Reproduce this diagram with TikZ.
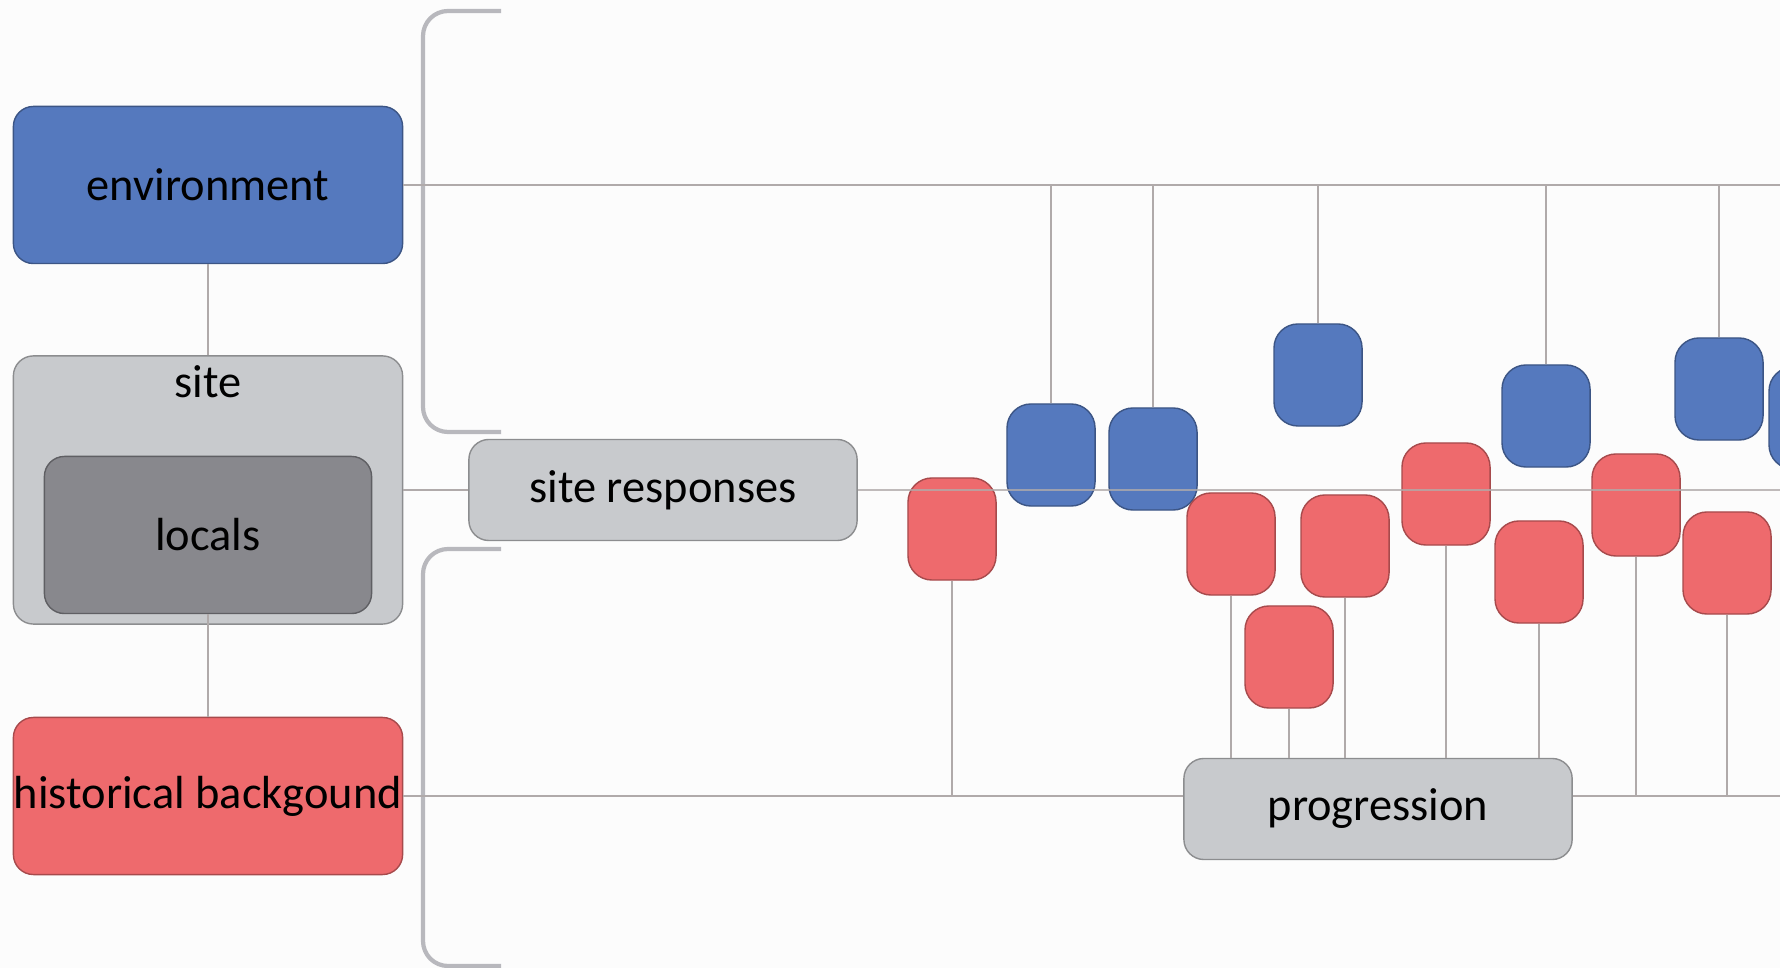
\documentclass[tikz,border=0pt]{standalone}
\usepackage{fontspec}
\setmainfont{Carlito}
\usetikzlibrary{positioning}
\definecolor{envblue}{HTML}{5579BE}
\definecolor{histred}{HTML}{EE6A6D}
\definecolor{sitegray}{HTML}{C8CACD}
\definecolor{localgray}{HTML}{88888D}
\definecolor{linegray}{HTML}{B0AAAA}
\definecolor{brackgray}{HTML}{B8B8BD}
\definecolor{bggray}{HTML}{FCFCFC}

\begin{document}
\begin{tikzpicture}[x=0.01cm, y=-0.01cm,
  box/.style={draw=#1!70!black, fill=#1, line width=0.4pt, rounded corners=0.2cm, inner sep=0pt, align=center, font=\fontsize{13.2}{15}\selectfont},
  big/.style={box=#1, minimum width=3.89cm, minimum height=1.57cm},
  pill/.style={box=#1, minimum width=3.88cm, minimum height=1.01cm},
  sq/.style={box=#1, minimum width=0.88cm, minimum height=1.02cm, rounded corners=0.24cm},
  conn/.style={draw=linegray, line width=0.6pt},
  brack/.style={draw=brackgray, line width=1.2pt, rounded corners=0.25cm}
]
\fill[bggray] (0,0) rectangle (1780,968);
\useasboundingbox (0,0) rectangle (1780,968);
\clip (0,0) rectangle (1780,968);

\draw[brack] (501,11) -- (423,11) -- (423,432) -- (501,432);
\draw[brack] (501,549) -- (423,549) -- (423,966) -- (501,966);

\node[big=envblue] (env) at (208,185) {environment};
\node[box=sitegray, minimum width=3.89cm, minimum height=2.68cm,
      label={[anchor=north, inner sep=0pt, yshift=-0.1cm, font=\fontsize{13.2}{15}\selectfont]north:site}] (site) at (208,490) {};
\node[box=localgray, minimum width=3.27cm, minimum height=1.57cm] (locals) at (208,535) {locals};
\node[big=histred] (hist) at (208,796) {historical backgound};
\node[pill=sitegray] (resp) at (663,490) {site responses};
\node[pill=sitegray] (prog) at (1378,809) {progression};

\coordinate (topend) at (1780,185);
\coordinate (midend) at (1780,490);
\coordinate (botend) at (1780,796);

\draw[conn] (env.south) -- (site.north);
\draw[conn] (locals.south) -- (hist.north);
\draw[conn] (env.east) -- (topend);
\draw[conn] (hist.east) -- (hist.east -| prog.west);
\draw[conn] (botend -| prog.east) -- (botend);
\draw[conn] (site.east) -- (resp.west);

\node[sq=envblue] (b1) at (1051,455) {};
\node[sq=envblue] (b2) at (1153,459) {};
\node[sq=envblue] (b3) at (1318,375) {};
\node[sq=envblue] (b4) at (1546,416) {};
\node[sq=envblue] (b5) at (1719,389) {};
\node[sq=envblue] (b6) at (1813,418) {};

\node[sq=histred] (r1) at (952,529) {};
\node[sq=histred] (r2) at (1231,544) {};
\node[sq=histred] (r3) at (1289,657) {};
\node[sq=histred] (r4) at (1345,546) {};
\node[sq=histred] (r5) at (1446,494) {};
\node[sq=histred] (r6) at (1539,572) {};
\node[sq=histred] (r7) at (1636,505) {};
\node[sq=histred] (r8) at (1727,563) {};

\draw[conn] (b1.north) -- (b1.north |- topend);
\draw[conn] (b2.north) -- (b2.north |- topend);
\draw[conn] (b3.north) -- (b3.north |- topend);
\draw[conn] (b4.north) -- (b4.north |- topend);
\draw[conn] (b5.north) -- (b5.north |- topend);

\draw[conn] (r1.south) -- (r1.south |- botend);
\draw[conn] (r2.south) -- (r2.south |- prog.north);
\draw[conn] (r3.south) -- (r3.south |- prog.north);
\draw[conn] (r4.south) -- (r4.south |- prog.north);
\draw[conn] (r5.south) -- (r5.south |- prog.north);
\draw[conn] (r6.south) -- (r6.south |- prog.north);
\draw[conn] (r7.south) -- (r7.south |- botend);
\draw[conn] (r8.south) -- (r8.south |- botend);

\draw[conn, draw opacity=0.8] (resp.east) -- (midend);
\end{tikzpicture}
\end{document}
